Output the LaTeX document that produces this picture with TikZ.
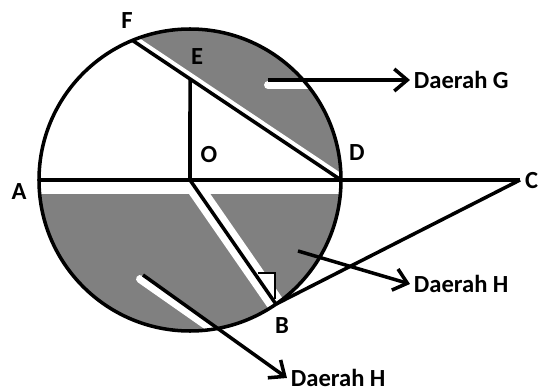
\documentclass[tikz,border=0pt]{standalone}
\usepackage{fontspec}
\setmainfont{Carlito}
\usetikzlibrary{arrows.meta,calc}
\tikzset{
  ptlbl/.style={font=\bfseries\fontsize{14}{16}\selectfont, inner sep=1pt},
  tag/.style={font=\bfseries\fontsize{14}{16}\selectfont, anchor=west, inner sep=2pt},
  region/.style={fill=black!50},
  whitegap/.style={draw=white, line width=#1},
  glow/.style={draw=white, line width=4.5pt, line cap=round},
  edge/.style={line width=2pt},
  arrow/.style={-{Straight Barb[length=2.6mm, width=4.4mm]}, line width=2pt}
}

\begin{document}
\begin{tikzpicture}[x=0.02cm, y=-0.02cm]
\useasboundingbox (0,0) rectangle (539,392);
\coordinate (O) at (190,180);
\coordinate (Otop) at (190,0);
\coordinate (A) at ($(O)+(180:151)$);
\coordinate (D) at ($(O)+(0:151)$);
\coordinate (F) at ($(O)+(-112.4:151)$);
\coordinate (B) at ($(O)+(55.3:151)$);
\coordinate (C) at (520,180);
\coordinate (E) at (intersection of F--D and O--Otop);
\coordinate (gs) at (268,80);
\coordinate (hs1) at (298,251);
\coordinate (hs2) at (143,275);
\coordinate (m1) at (258,273);
\coordinate (m2) at (275,273);
\coordinate (m3) at (275,299);
\begin{scope}
  \clip (O) circle (151);
  \fill[region] (F) arc[start angle=-112.4, end angle=0, radius=151] -- cycle;
  \fill[region] (D) arc[start angle=0, end angle=180, radius=151] -- cycle;
  \draw[whitegap=6.5pt] ($(F)!-0.2!(D)$) -- ($(D)!-0.2!(F)$);
  \draw[whitegap=8pt] ($(A)+(0,7)$) -- ($(D)+(0,7)$);
  \draw[whitegap=10pt] (O) -- ($(O)!1.2!(B)$);
  \draw[glow] ($(gs)+(0,5)$) -- ++(60,0);
  \draw[glow] ($(hs2)+(-3,4)$) -- ++(100,70);
  \draw[glow] ($(m1)+(2,3)$) -- ($(m2)+(-3,3)$) -- ($(m3)+(-3,-3)$);
\end{scope}
\draw[edge] (O) circle (151);
\draw[edge] (A) -- (C);
\draw[edge] (F) -- (D);
\draw[edge] (E) -- (O);
\draw[edge] (O) -- (B);
\draw[edge] (B) -- (C);
\draw[line width=1.3pt] (m1) -- (m2) -- (m3);
\node[ptlbl] (lF) at (127,21) {F};
\node[ptlbl] (lE) at (197,57) {E};
\node[ptlbl] (lO) at (209,155) {O};
\node[ptlbl] (lD) at (357,153) {D};
\node[ptlbl] (lA) at (19,192) {A};
\node[ptlbl] (lB) at (282,326) {B};
\node[ptlbl, anchor=west] (lC) at (523,181) {C};
\node[tag] (dG) at (410,80) {Daerah G};
\node[tag] (dH1) at (410,284) {Daerah H};
\node[tag] (dH2) at (287,378) {Daerah H};
\draw[arrow] (gs) -- (dG.west);
\draw[arrow] (hs1) -- (dH1.west);
\draw[arrow] (hs2) -- (dH2.west);
\end{tikzpicture}
\end{document}
